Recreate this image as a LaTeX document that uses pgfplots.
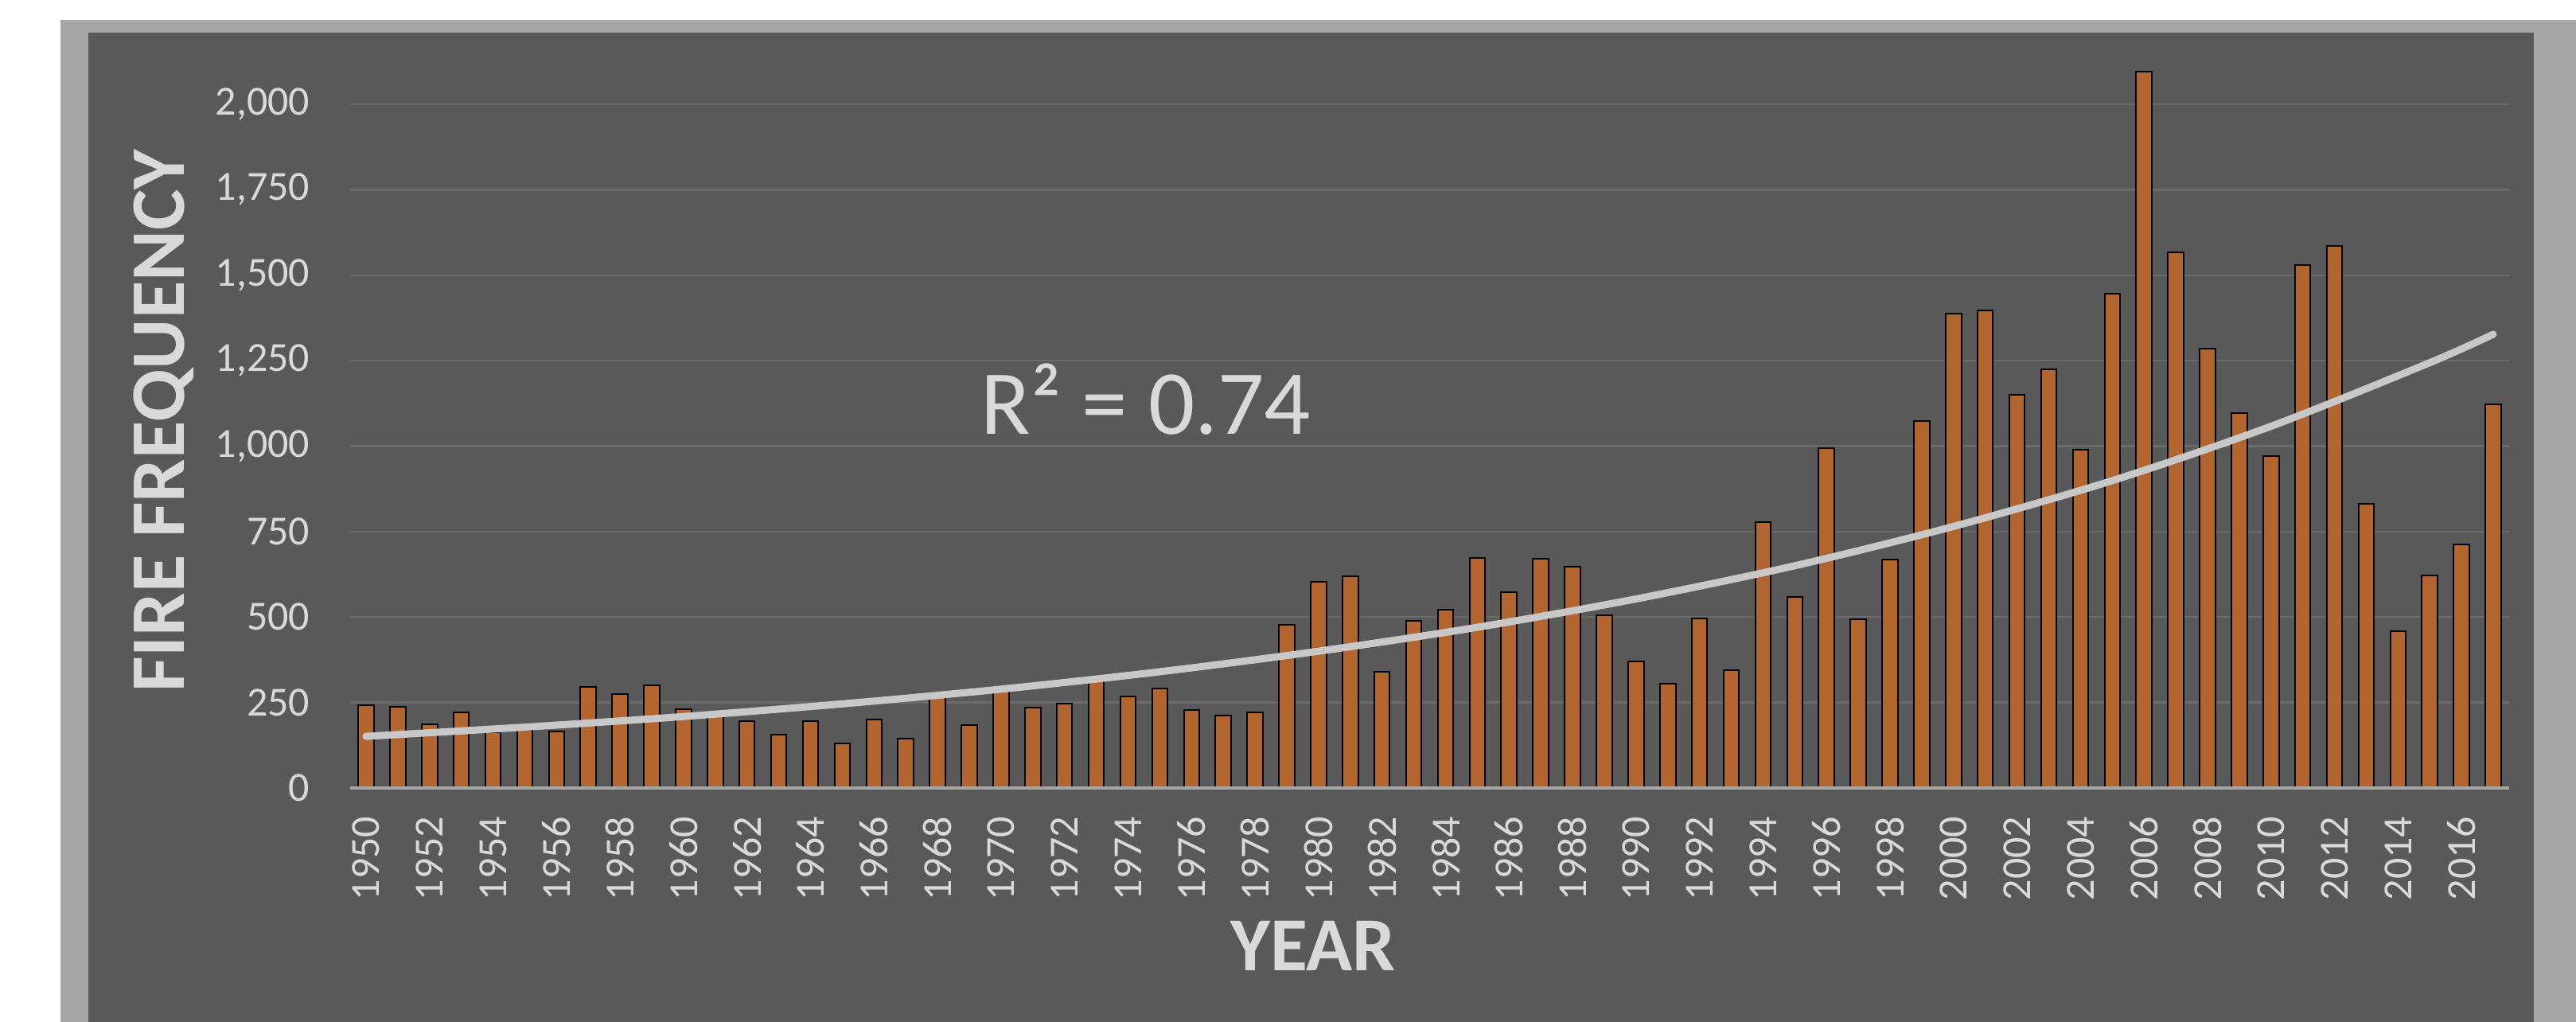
\documentclass[border=0pt]{standalone}
\usepackage{fontspec}
\setmainfont{Carlito}
\usepackage{pgfplots}
\pgfplotsset{compat=1.18}
\definecolor{panel}{HTML}{595959}
\definecolor{framec}{HTML}{A6A6A6}
\definecolor{barc}{HTML}{B3652F}
\definecolor{gridc}{HTML}{6B6B6B}
\definecolor{basec}{HTML}{A6A6A6}
\definecolor{txt}{HTML}{D9D9D9}
\definecolor{trend}{HTML}{C8C8C8}
\begin{document}
\begin{tikzpicture}
\useasboundingbox (0,0) rectangle (809.25pt,321pt);
\fill[white] (0,0) rectangle (809.25pt,321pt);
\fill[framec] (19pt,0) rectangle (809.25pt,314.75pt);
\fill[panel] (27.75pt,0) rectangle (796pt,310.75pt);
\begin{axis}[
  at={(110pt,73.5pt)}, anchor=south west,
  scale only axis, width=678.25pt, height=225.5pt,
  xmin=1949.5, xmax=2017.5, ymin=0, ymax=2100,
  axis line style={draw=none},
  major tick length=0pt,
  ytick={0,250,...,2000},
  xtick={1950,1952,...,2016},
  ymajorgrids, grid style={gridc, line width=0.6pt},
  /pgf/number format/assume math mode=true,
  xticklabel shift=8.75pt,
  yticklabel shift=12.5pt,
  xticklabel style={rotate=90, anchor=east, inner sep=0pt, font=\fontsize{13}{15}\selectfont, text=txt, /pgf/number format/1000 sep={}},
  yticklabel style={anchor=east, inner sep=0pt, font=\fontsize{13}{15}\selectfont, text=txt, /pgf/number format/1000 sep={,}},
  clip=false,
]
\addplot[ybar, bar width=0.49, bar shift=0pt, fill=barc, draw=black, line width=0.5pt] coordinates {
(1950,241) (1951,238) (1952,187) (1953,221) (1954,164) (1955,171) (1956,165) (1957,295) (1958,275) (1959,300)
(1960,230) (1961,212) (1962,195) (1963,157) (1964,195) (1965,130) (1966,201) (1967,144) (1968,268) (1969,184)
(1970,284) (1971,236) (1972,247) (1973,311) (1974,268) (1975,291) (1976,228) (1977,211) (1978,221) (1979,478)
(1980,602) (1981,619) (1982,341) (1983,488) (1984,521) (1985,673) (1986,572) (1987,670) (1988,648) (1989,506)
(1990,369) (1991,304) (1992,497) (1993,345) (1994,777) (1995,558) (1996,993) (1997,494) (1998,669) (1999,1073)
(2000,1387) (2001,1398) (2002,1151) (2003,1225) (2004,990) (2005,1445) (2006,2096) (2007,1566) (2008,1284) (2009,1096)
(2010,971) (2011,1529) (2012,1585) (2013,832) (2014,459) (2015,622) (2016,713) (2017,1121)
};
\draw[basec, line width=0.8pt] (axis cs:1949.5,0) -- (axis cs:2017.5,0);
\addplot[trend, line width=2.25pt, smooth, line cap=round, no marks] coordinates {
(1950,151) (1955,178) (1960,209) (1965,246) (1970,289) (1975,340) (1980,400) (1985,470) (1990,553)
(1995,650) (2000,765) (2005,899) (2010,1058) (2015,1244) (2017,1327)
};
\node[anchor=base west, inner sep=0pt, text=txt, font=\fontsize{28.75}{32}\selectfont] at (axis cs:1969.35,1036) {R² = 0.74};
\end{axis}
\node[rotate=90, inner sep=0pt, text=txt, font=\fontsize{24.25}{28}\selectfont\bfseries] at (51.5pt,188.75pt) {FIRE FREQUENCY};
\node[inner sep=0pt, text=txt, font=\fontsize{24}{28}\selectfont\bfseries] at (412.5pt,24pt) {YEAR};
\end{tikzpicture}
\end{document}
